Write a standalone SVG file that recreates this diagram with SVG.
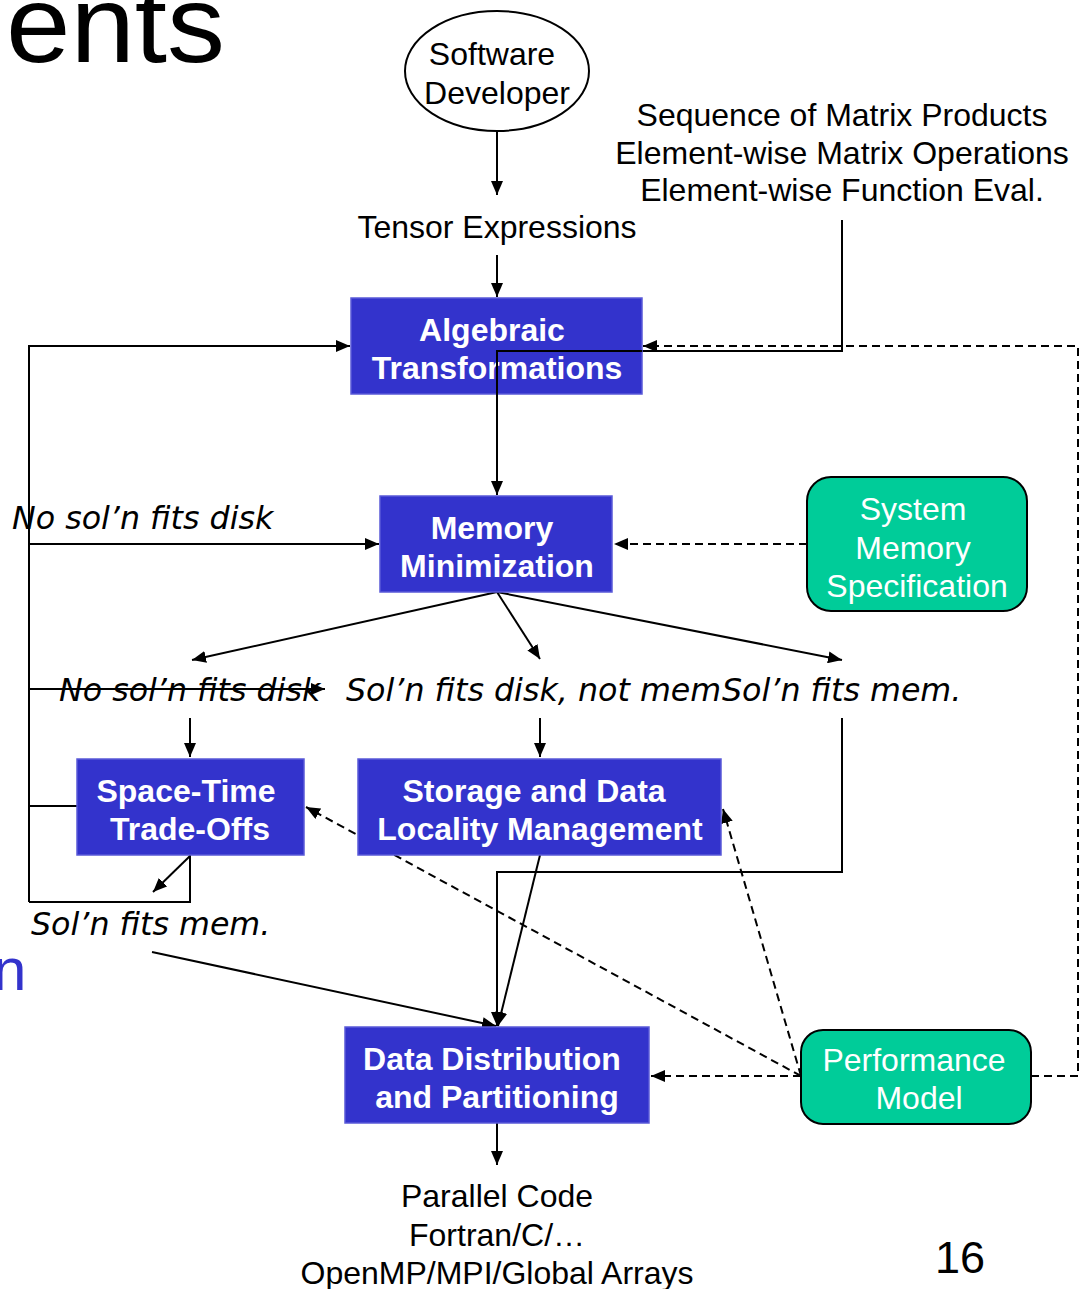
<svg xmlns="http://www.w3.org/2000/svg" width="1080" height="1289" viewBox="0 0 1080 1289">
<style>
.box{fill:#3333cc;stroke:#5a5ad8;stroke-width:1.5}
.gbox{fill:#00cc99;stroke:#000;stroke-width:2}
.bt{font-family:"Liberation Sans",Arial,sans-serif;font-weight:bold;font-size:32px;fill:#fff;text-anchor:middle}
.gt{font-family:"Liberation Sans",Arial,sans-serif;font-size:32px;fill:#fff;text-anchor:middle}
.t{font-family:"Liberation Sans",Arial,sans-serif;font-size:32px;fill:#000;text-anchor:middle}
.it{font-family:"DejaVu Sans",Verdana,sans-serif;font-style:italic;font-size:31.7px;fill:#000}
.c{fill:none;stroke:#000;stroke-width:2}
.d{fill:none;stroke:#000;stroke-width:2;stroke-dasharray:8 5}
</style>
<defs>
<marker id="ah" viewBox="0 0 14 12" refX="14" refY="6" markerWidth="14" markerHeight="12" markerUnits="userSpaceOnUse" orient="auto">
<path d="M0,0 L14,6 L0,12 Z" fill="#000"/>
</marker>
</defs>
<rect width="1080" height="1289" fill="#fff"/>
<text x="6" y="62" font-family="Liberation Sans,Arial,sans-serif" font-size="110" textLength="219" lengthAdjust="spacingAndGlyphs">ents</text>
<text x="-7" y="990" font-family="Liberation Sans,Arial,sans-serif" font-size="60" fill="#3333cc">n</text>
<text x="960" y="1273" class="t" font-size="45" style="font-size:45px">16</text>

<g id="connectors">
<path class="c" d="M497,131 V195" marker-end="url(#ah)"/>
<path class="c" d="M497,255 V297" marker-end="url(#ah)"/>
<path class="c" d="M842,220 V351 H497 V495" marker-end="url(#ah)"/>
<path class="d" d="M1031,1076 H1078 V346 H643" marker-end="url(#ah)"/>
<path class="c" d="M29,902 V346 H350" marker-end="url(#ah)"/>
<path class="c" d="M29,544 H379" marker-end="url(#ah)"/>
<path class="c" d="M29,689 H325" marker-end="url(#ah)"/>
<path class="c" d="M29,806 H77"/>
<path class="c" d="M29,902 H190 V855"/>
<path class="c" d="M190,856 L153,892" marker-end="url(#ah)"/>
<path class="c" d="M497,592 L192,660" marker-end="url(#ah)"/>
<path class="c" d="M497,592 L540,659" marker-end="url(#ah)"/>
<path class="c" d="M497,592 L842,660" marker-end="url(#ah)"/>
<path class="c" d="M190,718 V757" marker-end="url(#ah)"/>
<path class="c" d="M540,718 V757" marker-end="url(#ah)"/>
<path class="c" d="M842,718 V872 H497 V1026" marker-end="url(#ah)"/>
<path class="c" d="M540,855 L498,1026" marker-end="url(#ah)"/>
<path class="c" d="M152,952 L496,1026" marker-end="url(#ah)"/>
<path class="c" d="M497,1123 V1165" marker-end="url(#ah)"/>
<path class="d" d="M807,544 H614" marker-end="url(#ah)"/>
<path class="d" d="M801,1076 H651" marker-end="url(#ah)"/>
<path class="d" d="M801,1076 L306,807" marker-end="url(#ah)"/>
<path class="d" d="M801,1076 L723,809" marker-end="url(#ah)"/>
</g>

<g id="developer">
<ellipse cx="497" cy="71" rx="92" ry="60" fill="#fff" stroke="#000" stroke-width="2"/>
<text x="492" y="65" class="t">Software</text>
<text x="497" y="104" class="t">Developer</text>
</g>
<g id="tensor"><text x="497" y="238" class="t">Tensor Expressions</text></g>
<g id="ops">
<text x="842" y="126" class="t">Sequence of Matrix Products</text>
<text x="842" y="164" class="t">Element-wise Matrix Operations</text>
<text x="842" y="201" class="t">Element-wise Function Eval.</text>
</g>
<g id="algebraic">
<rect x="351" y="298" width="291" height="96" class="box"/>
<text x="492" y="341" class="bt">Algebraic</text>
<text x="497" y="379" class="bt">Transformations</text>
</g>
<path class="c" d="M642,351 H497 V435"/>
<g id="memory">
<rect x="380" y="496" width="232" height="96" class="box"/>
<text x="492" y="539" class="bt">Memory</text>
<text x="497" y="577" class="bt">Minimization</text>
</g>
<g id="sysmem">
<rect x="807" y="477" width="220" height="134" rx="24" class="gbox"/>
<text x="913" y="520" class="gt">System</text>
<text x="913" y="559" class="gt">Memory</text>
<text x="917" y="597" class="gt">Specification</text>
</g>
<g id="labels">
<text x="12" y="529" class="it">No sol’n fits disk</text>
<text x="59" y="701" class="it">No sol’n fits disk</text>
<text x="346" y="701" class="it">Sol’n fits disk, not mem</text>
<text x="722" y="701" class="it">Sol’n fits mem.</text>
<text x="31" y="935" class="it">Sol’n fits mem.</text>
</g>
<g id="spacetime">
<rect x="77" y="759" width="227" height="96" class="box"/>
<text x="186" y="802" class="bt">Space-Time</text>
<text x="190" y="840" class="bt">Trade-Offs</text>
</g>
<g id="storage">
<rect x="358" y="759" width="363" height="96" class="box"/>
<text x="534" y="802" class="bt">Storage and Data</text>
<text x="540" y="840" class="bt">Locality Management</text>
</g>
<g id="datadist">
<rect x="345" y="1027" width="304" height="96" class="box"/>
<text x="492" y="1070" class="bt">Data Distribution</text>
<text x="497" y="1108" class="bt">and Partitioning</text>
</g>
<g id="perf">
<rect x="801" y="1030" width="230" height="94" rx="22" class="gbox"/>
<text x="914" y="1071" class="gt">Performance</text>
<text x="919" y="1109" class="gt">Model</text>
</g>
<g id="output">
<text x="497" y="1207" class="t">Parallel Code</text>
<text x="497" y="1246" class="t">Fortran/C/…</text>
<text x="497" y="1284" class="t">OpenMP/MPI/Global Arrays</text>
</g>
</svg>
